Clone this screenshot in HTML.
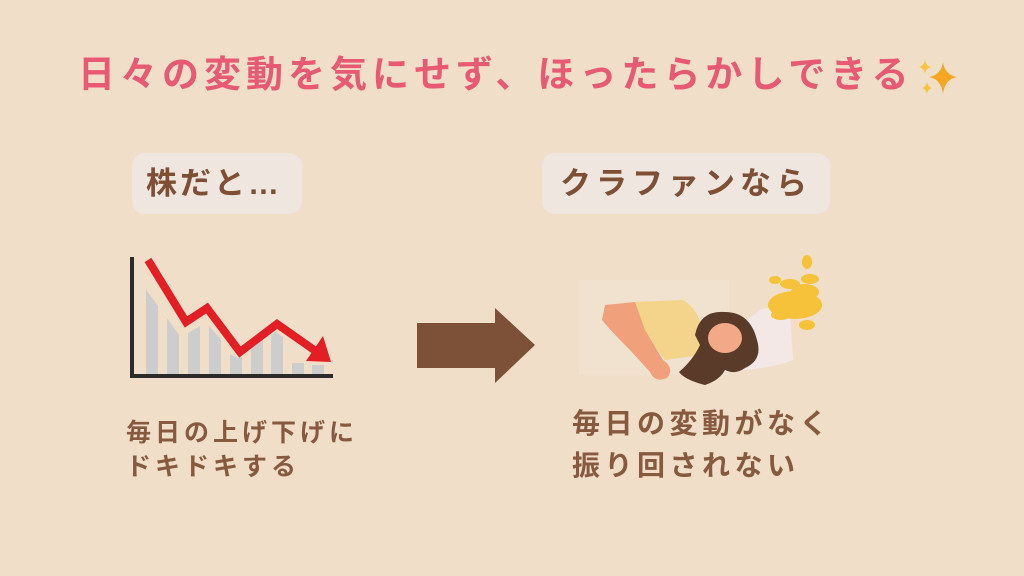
<!DOCTYPE html>
<html><head><meta charset="utf-8"><style>
body{margin:0;width:1024px;height:576px;background:#F0DEC8;position:relative;overflow:hidden;font-family:"Liberation Sans","Noto Sans CJK JP",sans-serif;}
.t{position:absolute;white-space:nowrap;}
.title{left:78px;top:52px;font-size:37px;letter-spacing:5px;color:#E85A74;font-weight:bold;line-height:46px;}
.box{position:absolute;background:#EFE6E0;border-radius:13px;}
.lab{font-size:31px;color:#7F4F35;font-weight:bold;letter-spacing:3px;line-height:40px;}
.txt{color:#875A40;font-weight:bold;}
</style></head><body>
<div class="t title">日々の変動を気にせず、ほったらかしできる</div>
<svg class="t" style="left:915px;top:58px" width="46" height="40" viewBox="0 0 46 40">
<path d="M28 4 Q30 17 42 19 Q30 21 28 36 Q26 21 14 19 Q26 17 28 4Z" fill="#F5A623"/>
<path d="M10 2 Q11 8 16 9 Q11 10 10 16 Q9 10 4 9 Q9 8 10 2Z" fill="#F8C440"/>
<path d="M12 24 Q13 29 17 30 Q13 31 12 36 Q11 31 7 30 Q11 29 12 24Z" fill="#F8C440"/>
</svg>
<div class="box" style="left:132px;top:153px;width:170px;height:61px"></div>
<div class="t lab" style="left:146px;top:164px">株だと…</div>
<div class="box" style="left:542px;top:153px;width:288px;height:61px"></div>
<div class="t lab" style="left:560px;top:164px;letter-spacing:5px">クラファンなら</div>
<svg class="t" style="left:129px;top:240px" width="230" height="150">
<g fill="#CDCDCD">
<polygon points="17,50 29,66 29,134 17,134"/>
<polygon points="38,78 50,95 50,134 38,134"/>
<polygon points="59,93 71,86 71,134 59,134"/>
<polygon points="80,86 92,99 92,134 80,134"/>
<polygon points="101,114 109,118 113,117 113,134 101,134"/>
<polygon points="122,104 134,97 134,134 122,134"/>
<polygon points="142,95 147,92 154,97 154,134 142,134"/>
<rect x="163" y="123" width="12" height="11"/><rect x="183" y="125" width="12" height="9"/>
</g>
<path d="M3 17 V136 H204" stroke="#2B2B2B" stroke-width="4" fill="none"/>
<path d="M19 20 L57 82 L78 68 L111 112 L148 84 L188 112" stroke="#E31E24" stroke-width="8" fill="none"/>
<polygon points="177,121 202,122 194,96" fill="#E31E24"/>
</svg>
<svg class="t" style="left:417px;top:308px" width="120" height="76"><polygon points="0,15 78,15 78,0 118,37 78,75 78,60 0,60" fill="#7D5038"/></svg>
<svg class="t" style="left:575px;top:250px" width="280" height="135">
<rect x="4" y="30" width="150" height="95" fill="#F1E2CF"/>
<path d="M185 60 Q195 55 215 62 L218 110 Q200 118 150 122 L140 95Z" fill="#F3E8E6"/>
<path d="M58 52 L108 50 Q125 60 128 85 L125 105 L90 110 L68 80Z" fill="#F4D48A"/>
<path d="M30 55 L60 52 L70 80 L88 110 Q100 118 92 128 Q80 133 75 122 L55 100 Q35 80 27 70Z" fill="#F0A07A"/>
<path d="M120 85 Q125 60 150 62 Q175 62 182 90 Q188 110 170 118 Q160 125 150 120 Q145 130 130 135 Q110 130 104 122 Q118 110 125 95Z" fill="#5A3B2A"/>
<ellipse cx="150" cy="88" rx="17" ry="15" fill="#F3A887"/>
<g fill="#F5C23A">
<ellipse cx="220" cy="55" rx="27" ry="14"/><ellipse cx="230" cy="42" rx="14" ry="8"/>
<ellipse cx="215" cy="34" rx="10" ry="5"/><ellipse cx="235" cy="29" rx="9" ry="5"/>
<ellipse cx="232" cy="12" rx="5" ry="7"/><ellipse cx="206" cy="65" rx="10" ry="5"/><ellipse cx="232" cy="75" rx="8" ry="5"/><ellipse cx="200" cy="30" rx="6" ry="4"/>
</g>
</svg>
<div class="t txt" style="left:126px;top:416px;font-size:25px;letter-spacing:4px;line-height:34px">毎日の上げ下げに<br>ドキドキする</div>
<div class="t txt" style="left:572px;top:403px;font-size:28px;letter-spacing:4.5px;line-height:42px">毎日の変動がなく<br>振り回されない</div>
</body></html>
